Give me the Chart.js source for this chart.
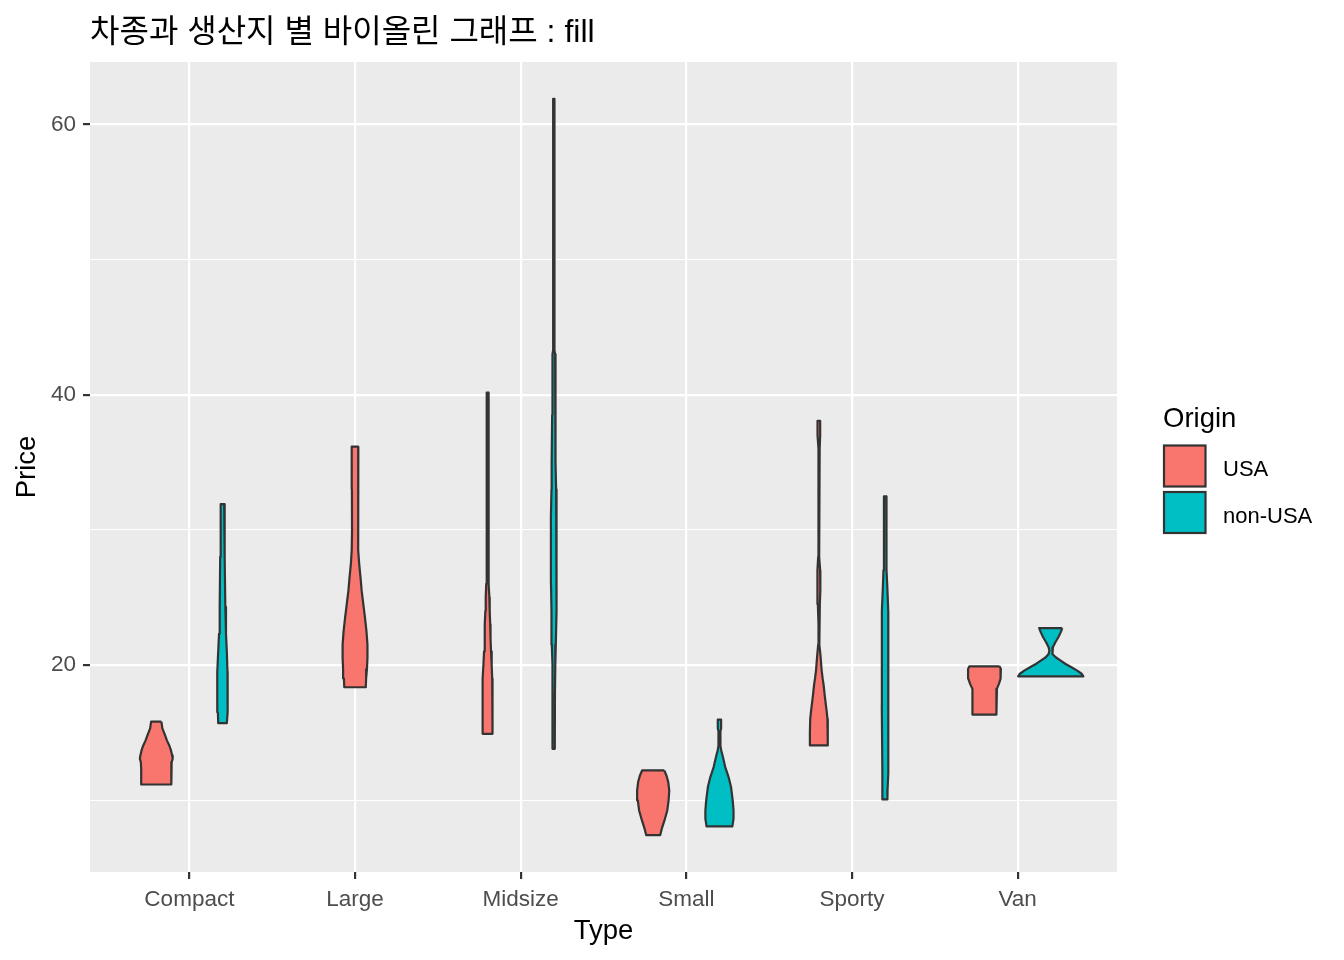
<!DOCTYPE html>
<html lang="ko">
<head>
<meta charset="utf-8">
<title>차종과 생산지 별 바이올린 그래프 : fill</title>
<script src="https://cdn.jsdelivr.net/npm/chart.js@4.4.1/dist/chart.umd.min.js"></script>
<style>
  html, body { margin: 0; padding: 0; background: #ffffff; }
  canvas { display: block; }
</style>
</head>
<body>
<canvas id="violinChart" width="1344" height="960"></canvas>
<script>
// categories / groups
const types = ['Compact', 'Large', 'Midsize', 'Small', 'Sporty', 'Van'];
const origins = ['USA', 'non-USA'];
const yTicks = [10, 20, 30, 40, 50, 60];

// violin outlines: [Price, half width in category units]
const compactUSA = [[15.81,0.031],[15.3,0.037],[14.9,0.050],[14.4,0.065],[14.0,0.080],[13.67,0.089],[13.3,0.096],[13.05,0.099],[12.8,0.093],[12.3,0.091],[11.15,0.091]];
const compactNonUSA = [[31.9,0.010],[30.9,0.012],[28,0.014],[24.3,0.017],[22.3,0.021],[21,0.026],[19.5,0.030],[18.5,0.033],[17.5,0.032],[16.5,0.028],[15.69,0.026]];
const largeUSA = [[36.16,0.020],[33,0.019],[30,0.018],[28.5,0.020],[27.5,0.025],[26.5,0.033],[25.5,0.040],[24.5,0.050],[23.5,0.060],[22.5,0.069],[21.5,0.075],[20.5,0.075],[19.7,0.072],[19,0.067],[18.35,0.065]];
const midsizeUSA = [[40.15,0.005],[26.3,0.005],[26.0,0.008],[25,0.011],[24,0.013],[23,0.016],[22,0.018],[21,0.021],[20,0.025],[19,0.028],[18,0.030],[17,0.031],[16,0.030],[14.9,0.029]];
const midsizeNonUSA = [[61.9,0.004],[43.3,0.004],[43.0,0.008],[41,0.008],[38.5,0.010],[35,0.013],[33,0.014],[31,0.017],[28,0.018],[26,0.017],[24,0.014],[21.5,0.012],[20,0.009],[18,0.007],[13.79,0.006]];
const smallUSA = [[12.19,0.067],[11.82,0.080],[11.33,0.091],[10.71,0.097],[9.97,0.093],[9.23,0.085],[8.49,0.068],[7.88,0.052],[7.4,0.042]];
const smallNonUSA = [[15.96,0.010],[15.3,0.010],[15.1,0.006],[14.0,0.006],[13.67,0.011],[13.18,0.021],[12.44,0.035],[11.7,0.055],[10.96,0.070],[9.97,0.080],[9.23,0.085],[8.62,0.085],[8.05,0.078]];
const sportyUSA = [[38.06,0.008],[37,0.008],[36,0.005],[35,0.002],[33,0.001],[31,0.001],[29.5,0.002],[28,0.004],[27,0.008],[25.5,0.009],[24.5,0.006],[23,0.002],[21.5,0.004],[20.7,0.010],[19.6,0.017],[19,0.023],[18.5,0.029],[17.8,0.035],[17.2,0.041],[16.6,0.047],[16,0.052],[15,0.054],[14.04,0.054]];
const sportyNonUSA = [[32.47,0.007],[29,0.007],[27,0.010],[25.9,0.013],[24,0.019],[21,0.020],[17,0.020],[12,0.018],[10.8,0.015],[10.05,0.014]];
const vanUSA = [[19.9,0.091],[19.7,0.099],[18.97,0.097],[18.6,0.087],[18.23,0.075],[16.87,0.070],[16.62,0.073],[16.33,0.073]];
const vanNonUSA = [[22.73,0.070],[22.41,0.060],[22.05,0.046],[21.68,0.028],[21.31,0.013],[21.06,0.008],[20.81,0.013],[20.57,0.030],[20.32,0.060],[20.07,0.090],[19.83,0.125],[19.58,0.160],[19.33,0.188],[19.16,0.197]];

const violins = [
  { type: 'Compact', origin: 'USA', profile: compactUSA },
  { type: 'Compact', origin: 'non-USA', profile: compactNonUSA },
  { type: 'Large', origin: 'USA', profile: largeUSA },
  { type: 'Midsize', origin: 'USA', profile: midsizeUSA },
  { type: 'Midsize', origin: 'non-USA', profile: midsizeNonUSA },
  { type: 'Small', origin: 'USA', profile: smallUSA },
  { type: 'Small', origin: 'non-USA', profile: smallNonUSA },
  { type: 'Sporty', origin: 'USA', profile: sportyUSA },
  { type: 'Sporty', origin: 'non-USA', profile: sportyNonUSA },
  { type: 'Van', origin: 'USA', profile: vanUSA },
  { type: 'Van', origin: 'non-USA', profile: vanNonUSA }
];

const FILLS = { 'USA': '#F8766D', 'non-USA': '#00BFC4' };
const DODGE = 0.2;
const FONT = '"Liberation Sans", Arial, sans-serif';

// closed outline: right side going down, left side coming back up
function violinPoints(v) {
  let n = violins.filter(o => o.type === v.type).length;
  let cx = types.indexOf(v.type) + 1;
  if (n > 1) cx += (origins.indexOf(v.origin) === 0 ? -DODGE : DODGE);
  let right = v.profile.map(p => ({ x: cx + p[1], y: p[0] }));
  let left = v.profile.slice().reverse().map(p => ({ x: cx - p[1], y: p[0] }));
  return right.concat(left, [right[0]]);
}

const ggPlugin = {
  id: 'ggDecor',
  beforeDraw(chart) {
    const { ctx, chartArea: a } = chart;
    ctx.save();
    ctx.fillStyle = '#FFFFFF';
    ctx.fillRect(0, 0, chart.width, chart.height);
    ctx.fillStyle = '#EBEBEB';
    ctx.fillRect(a.left, a.top, a.right - a.left, a.bottom - a.top);
    ctx.restore();
  },
  afterDraw(chart) {
    const ctx = chart.ctx;
    ctx.save();
    // title
    ctx.fillStyle = '#000000';
    ctx.textAlign = 'left';
    ctx.textBaseline = 'alphabetic';
    ctx.font = '32px "Liberation Sans", "Noto Sans CJK KR", sans-serif';
    ctx.fillText('차종과 생산지 별 바이올린 그래프 : fill', chart.chartArea.left, 42);
    // legend
    ctx.font = '27.5px ' + FONT;
    ctx.fillText('Origin', 1163, 427);
    ctx.font = '22px ' + FONT;
    origins.forEach((o, i) => {
      let y = 445.5 + i * 46.5;
      ctx.fillStyle = FILLS[o];
      ctx.fillRect(1164, y, 41.5, 41);
      ctx.strokeStyle = '#333333';
      ctx.lineWidth = 2.2;
      ctx.strokeRect(1164, y, 41.5, 41);
      ctx.fillStyle = '#000000';
      ctx.textBaseline = 'alphabetic';
      ctx.fillText(o, 1223, y + 30.5);
    });
    ctx.restore();
  }
};

const chart = new Chart(document.getElementById('violinChart'), {
  type: 'scatter',
  data: {
    datasets: violins.map(v => ({
      label: v.type + ' ' + v.origin,
      data: violinPoints(v),
      showLine: true,
      fill: 'shape',
      backgroundColor: FILLS[v.origin],
      borderColor: '#333333',
      borderWidth: 2.2,
      borderJoinStyle: 'round',
      pointRadius: 0,
      pointHoverRadius: 0,
      tension: 0
    }))
  },
  options: {
    responsive: false,
    animation: false,
    events: [],
    layout: { padding: { top: 62, right: 227, left: 0, bottom: 0 } },
    plugins: {
      legend: { display: false },
      tooltip: { enabled: false }
    },
    scales: {
      x: {
        type: 'linear',
        min: 0.4,
        max: 6.6,
        afterBuildTicks: s => { s.ticks = types.map((t, i) => ({ value: i + 1 })); },
        afterFit: s => { s.height = 88; },
        border: { display: false },
        grid: { color: '#FFFFFF', lineWidth: 2.2, tickColor: '#333333', tickWidth: 2.2, tickLength: 7 },
        ticks: {
          callback: v => types[v - 1],
          color: '#4D4D4D',
          font: { family: FONT, size: 22.5 },
          padding: 7,
          maxRotation: 0,
          autoSkip: false
        },
        title: { display: true, text: 'Type', color: '#000000', font: { family: FONT, size: 27.5 }, padding: { top: 0, bottom: 12 } }
      },
      y: {
        type: 'linear',
        min: 4.675,
        max: 64.625,
        afterBuildTicks: s => { s.ticks = yTicks.map(v => ({ value: v })); },
        afterFit: s => { s.width = 90; },
        border: { display: false },
        grid: {
          color: '#FFFFFF',
          lineWidth: c => (c.tick && c.tick.value % 20 === 0) ? 2.2 : 1.1,
          tickColor: c => (c.tick && c.tick.value % 20 === 0) ? '#333333' : 'rgba(0,0,0,0)',
          tickWidth: 2.2,
          tickLength: 7
        },
        ticks: {
          callback: v => (v % 20 === 0 ? String(v) : ''),
          color: '#4D4D4D',
          font: { family: FONT, size: 22.5 },
          padding: 7
        },
        title: { display: true, text: 'Price', color: '#000000', font: { family: FONT, size: 27.5 }, padding: { top: 11, bottom: 0 } }
      }
    }
  },
  plugins: [ggPlugin]
});
</script>
</body>
</html>
